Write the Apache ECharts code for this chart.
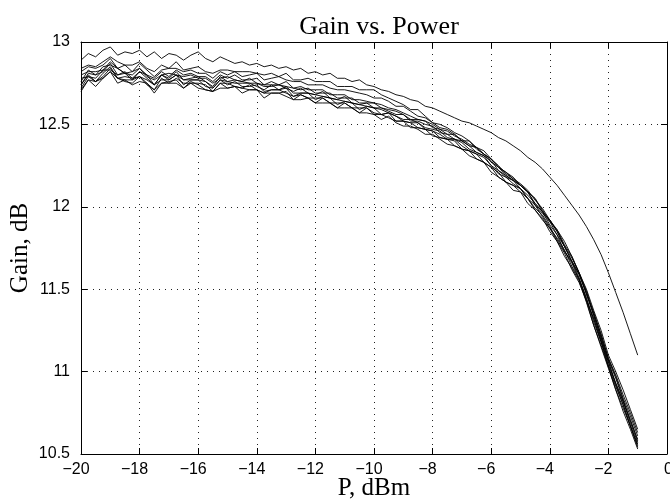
<!DOCTYPE html>
<html>
<head>
<meta charset="utf-8">
<title>Gain vs. Power</title>
<script src="https://cdn.jsdelivr.net/npm/echarts@6/dist/echarts.min.js"></script>
<style>
  html, body { margin: 0; padding: 0; background: #fff; }
  #chart { width: 670px; height: 503px; }
</style>
</head>
<body>
<div id="chart"></div>
<script>
// input power, dBm
const powerDbm = [
  -20, -19.75, -19.5, -19.25, -19, -18.75, -18.5, -18.25, -18, -17.75,
  -17.5, -17.25, -17, -16.75, -16.5, -16.25, -16, -15.75, -15.5, -15.25,
  -15, -14.75, -14.5, -14.25, -14, -13.75, -13.5, -13.25, -13, -12.75,
  -12.5, -12.25, -12, -11.75, -11.5, -11.25, -11, -10.75, -10.5, -10.25,
  -10, -9.75, -9.5, -9.25, -9, -8.75, -8.5, -8.25, -8, -7.75,
  -7.5, -7.25, -7, -6.75, -6.5, -6.25, -6, -5.75, -5.5, -5.25,
  -5, -4.75, -4.5, -4.25, -4, -3.75, -3.5, -3.25, -3, -2.75,
  -2.5, -2.25, -2, -1.75, -1.5, -1.25, -1
]

// gain, dB, one array per measured curve
const gainA = [
  12.89, 12.93, 12.91, 12.95, 12.97, 12.92, 12.94, 12.93, 12.95, 12.91,
  12.94, 12.90, 12.93, 12.92, 12.89, 12.92, 12.94, 12.90, 12.88, 12.91,
  12.89, 12.87, 12.88, 12.86, 12.87, 12.85, 12.86, 12.84, 12.85, 12.83,
  12.84, 12.81, 12.82, 12.80, 12.81, 12.78, 12.78, 12.76, 12.77, 12.74,
  12.73, 12.71, 12.70, 12.68, 12.67, 12.65, 12.64, 12.61, 12.60, 12.58,
  12.56, 12.54, 12.52, 12.51, 12.49, 12.47, 12.45, 12.42, 12.40, 12.37,
  12.34, 12.30, 12.27, 12.23, 12.18, 12.13, 12.07, 12.01, 11.95, 11.88,
  11.80, 11.71, 11.60, 11.48, 11.36, 11.23, 11.10
]
const gainB = [
  12.84, 12.86, 12.85, 12.88, 12.91, 12.88, 12.86, 12.86, 12.88, 12.84,
  12.82, 12.86, 12.84, 12.88, 12.83, 12.84, 12.85, 12.82, 12.81, 12.83,
  12.83, 12.82, 12.82, 12.82, 12.81, 12.80, 12.81, 12.79, 12.81, 12.77,
  12.77, 12.78, 12.76, 12.76, 12.76, 12.73, 12.73, 12.73, 12.71, 12.71,
  12.71, 12.68, 12.66, 12.64, 12.62, 12.59, 12.59, 12.55, 12.51, 12.50,
  12.48, 12.45, 12.43, 12.40, 12.36, 12.34, 12.29, 12.24, 12.21, 12.18,
  12.13, 12.09, 12.05, 11.98, 11.91, 11.86, 11.79, 11.70, 11.60, 11.50,
  11.37, 11.25, 11.10, 11.00, 10.89, 10.77, 10.65
]
const gainC = [
  12.82, 12.85, 12.84, 12.86, 12.90, 12.84, 12.86, 12.82, 12.87, 12.83,
  12.79, 12.83, 12.84, 12.84, 12.82, 12.83, 12.81, 12.81, 12.78, 12.82,
  12.80, 12.82, 12.79, 12.80, 12.81, 12.77, 12.78, 12.79, 12.77, 12.76,
  12.76, 12.74, 12.74, 12.74, 12.72, 12.71, 12.71, 12.70, 12.69, 12.68,
  12.66, 12.66, 12.64, 12.61, 12.61, 12.58, 12.55, 12.54, 12.51, 12.48,
  12.47, 12.44, 12.40, 12.40, 12.35, 12.32, 12.29, 12.24, 12.19, 12.16,
  12.13, 12.09, 12.02, 11.97, 11.92, 11.85, 11.76, 11.69, 11.60, 11.47,
  11.36, 11.22, 11.08, 10.98, 10.86, 10.75, 10.63
]
const gainD1 = [
  12.80, 12.82, 12.82, 12.83, 12.88, 12.84, 12.81, 12.82, 12.84, 12.80,
  12.78, 12.82, 12.79, 12.83, 12.80, 12.81, 12.79, 12.79, 12.76, 12.80,
  12.78, 12.80, 12.77, 12.77, 12.78, 12.74, 12.76, 12.74, 12.76, 12.72,
  12.73, 12.71, 12.71, 12.71, 12.68, 12.68, 12.68, 12.65, 12.65, 12.64,
  12.63, 12.62, 12.60, 12.59, 12.57, 12.55, 12.53, 12.52, 12.50, 12.47,
  12.46, 12.43, 12.41, 12.38, 12.36, 12.32, 12.29, 12.25, 12.20, 12.17,
  12.14, 12.10, 12.04, 11.99, 11.92, 11.86, 11.77, 11.70, 11.60, 11.49,
  11.35, 11.23, 11.08, 10.97, 10.84, 10.73, 10.61
]
const gainD2 = [
  12.76, 12.83, 12.80, 12.85, 12.86, 12.84, 12.81, 12.80, 12.84, 12.79,
  12.77, 12.80, 12.81, 12.80, 12.79, 12.80, 12.78, 12.78, 12.75, 12.78,
  12.79, 12.77, 12.76, 12.78, 12.75, 12.74, 12.74, 12.74, 12.73, 12.72,
  12.71, 12.72, 12.69, 12.69, 12.69, 12.66, 12.66, 12.66, 12.63, 12.63,
  12.63, 12.60, 12.59, 12.58, 12.56, 12.53, 12.53, 12.52, 12.48, 12.47,
  12.44, 12.44, 12.40, 12.37, 12.36, 12.32, 12.27, 12.24, 12.21, 12.17,
  12.13, 12.09, 12.05, 11.97, 11.92, 11.85, 11.76, 11.67, 11.59, 11.48,
  11.34, 11.21, 11.06, 10.93, 10.82, 10.71, 10.58
]
const gainD3 = [
  12.74, 12.81, 12.80, 12.82, 12.87, 12.80, 12.82, 12.78, 12.82, 12.80,
  12.74, 12.80, 12.78, 12.82, 12.77, 12.78, 12.79, 12.76, 12.73, 12.79,
  12.76, 12.77, 12.76, 12.75, 12.75, 12.73, 12.73, 12.74, 12.72, 12.70,
  12.72, 12.69, 12.68, 12.70, 12.66, 12.65, 12.67, 12.63, 12.62, 12.63,
  12.60, 12.60, 12.58, 12.56, 12.56, 12.52, 12.52, 12.50, 12.49, 12.45,
  12.44, 12.41, 12.40, 12.37, 12.33, 12.31, 12.28, 12.22, 12.19, 12.16,
  12.13, 12.09, 12.01, 11.96, 11.91, 11.83, 11.73, 11.67, 11.57, 11.44,
  11.32, 11.18, 11.06, 10.92, 10.80, 10.67, 10.56
]
const gainD4 = [
  12.78, 12.79, 12.78, 12.83, 12.83, 12.80, 12.81, 12.77, 12.82, 12.78,
  12.74, 12.80, 12.77, 12.80, 12.77, 12.77, 12.77, 12.76, 12.72, 12.77,
  12.76, 12.75, 12.75, 12.75, 12.73, 12.71, 12.74, 12.71, 12.73, 12.69,
  12.69, 12.69, 12.68, 12.67, 12.66, 12.65, 12.64, 12.63, 12.62, 12.61,
  12.60, 12.59, 12.57, 12.55, 12.53, 12.53, 12.51, 12.48, 12.47, 12.46,
  12.42, 12.41, 12.39, 12.35, 12.33, 12.31, 12.25, 12.22, 12.18, 12.16,
  12.11, 12.07, 12.02, 11.97, 11.89, 11.83, 11.76, 11.67, 11.59, 11.47,
  11.34, 11.20, 11.07, 10.96, 10.83, 10.70, 10.59
]
const gainD5 = [
  12.74, 12.80, 12.76, 12.81, 12.85, 12.78, 12.79, 12.78, 12.79, 12.77,
  12.74, 12.77, 12.77, 12.80, 12.74, 12.77, 12.77, 12.73, 12.72, 12.77,
  12.74, 12.76, 12.73, 12.73, 12.74, 12.70, 12.71, 12.71, 12.72, 12.67,
  12.69, 12.69, 12.65, 12.67, 12.66, 12.62, 12.64, 12.63, 12.59, 12.61,
  12.60, 12.56, 12.57, 12.55, 12.52, 12.51, 12.51, 12.47, 12.46, 12.44,
  12.41, 12.41, 12.37, 12.34, 12.32, 12.30, 12.25, 12.20, 12.18, 12.14,
  12.11, 12.05, 12.01, 11.94, 11.87, 11.81, 11.74, 11.64, 11.56, 11.45,
  11.30, 11.18, 11.03, 10.91, 10.80, 10.67, 10.55
]
const gainD6 = [
  12.72, 12.79, 12.76, 12.79, 12.84, 12.78, 12.77, 12.77, 12.79, 12.75,
  12.71, 12.78, 12.75, 12.78, 12.75, 12.75, 12.75, 12.74, 12.70, 12.75,
  12.75, 12.73, 12.72, 12.74, 12.71, 12.69, 12.71, 12.71, 12.69, 12.67,
  12.68, 12.66, 12.66, 12.66, 12.63, 12.63, 12.63, 12.60, 12.60, 12.60,
  12.57, 12.56, 12.57, 12.52, 12.52, 12.51, 12.48, 12.47, 12.46, 12.42,
  12.41, 12.40, 12.35, 12.34, 12.32, 12.27, 12.24, 12.21, 12.15, 12.13,
  12.11, 12.05, 11.99, 11.95, 11.88, 11.80, 11.73, 11.66, 11.56, 11.43,
  11.32, 11.19, 11.04, 10.93, 10.82, 10.69, 10.57
]
const gainD7 = [
  12.71, 12.77, 12.76, 12.78, 12.82, 12.78, 12.76, 12.75, 12.79, 12.74,
  12.71, 12.75, 12.76, 12.77, 12.72, 12.76, 12.74, 12.71, 12.70, 12.75,
  12.72, 12.73, 12.72, 12.71, 12.71, 12.69, 12.69, 12.69, 12.70, 12.65,
  12.68, 12.66, 12.63, 12.66, 12.63, 12.60, 12.63, 12.60, 12.57, 12.60,
  12.56, 12.56, 12.54, 12.52, 12.52, 12.48, 12.48, 12.47, 12.43, 12.42,
  12.41, 12.37, 12.35, 12.34, 12.29, 12.27, 12.24, 12.18, 12.15, 12.13,
  12.09, 12.05, 11.98, 11.92, 11.87, 11.79, 11.70, 11.63, 11.55, 11.42,
  11.28, 11.15, 11.02, 10.89, 10.76, 10.65, 10.53
]
const gainD8 = [
  12.70, 12.77, 12.73, 12.78, 12.82, 12.75, 12.77, 12.74, 12.76, 12.75,
  12.69, 12.75, 12.75, 12.75, 12.72, 12.75, 12.72, 12.71, 12.70, 12.72,
  12.72, 12.73, 12.69, 12.71, 12.71, 12.66, 12.69, 12.69, 12.67, 12.65,
  12.65, 12.66, 12.63, 12.63, 12.63, 12.60, 12.60, 12.60, 12.57, 12.57,
  12.56, 12.53, 12.55, 12.51, 12.49, 12.49, 12.47, 12.44, 12.44, 12.41,
  12.38, 12.37, 12.35, 12.31, 12.29, 12.27, 12.21, 12.18, 12.15, 12.10,
  12.09, 12.02, 11.98, 11.93, 11.85, 11.79, 11.72, 11.62, 11.54, 11.43,
  11.28, 11.16, 11.03, 10.89, 10.78, 10.67, 10.54
]

const curves = [gainA, gainB, gainC, gainD1, gainD2, gainD3, gainD4, gainD5, gainD6, gainD7, gainD8]

const sans = 'Liberation Sans'
const serif = 'Liberation Serif'

function fmtX(v) {
  if (v < 0) return '{n|\u2212' + Math.abs(v) + '}'
  return '{z|' + v + '}'
}

const dotted = { show: true, lineStyle: { color: '#222', width: 1, type: [1, 5] } }
const boxLine = { show: true, onZero: false, lineStyle: { color: '#000', width: 1 } }
const tick = { show: true, inside: true, length: 6, lineStyle: { color: '#000', width: 1 } }

const chart = echarts.init(document.getElementById('chart'), null, { renderer: 'canvas' })
chart.setOption({
  animation: false,
  backgroundColor: '#fff',
  title: {
    text: 'Gain vs. Power',
    left: 374,
    textAlign: 'center',
    top: 9,
    textStyle: { fontFamily: serif, fontSize: 26, fontWeight: 'normal', color: '#000' }
  },
  grid: { left: 81, right: 3, top: 42, bottom: 49, containLabel: false, outerBoundsMode: 'none' },
  xAxis: [{
    type: 'value',
    position: 'bottom',
    min: -20,
    max: 0,
    interval: 2,
    axisLine: boxLine,
    axisTick: tick,
    splitLine: dotted,
    axisLabel: {
      formatter: fmtX,
      margin: 8,
      color: '#000',
      fontFamily: sans,
      fontSize: 16,
      rich: {
        n: { fontFamily: sans, fontSize: 16, color: '#000', padding: [0, 10, 0, 0] },
        z: { fontFamily: sans, fontSize: 16, color: '#000', padding: [0, 0, 0, 3] }
      }
    },
    name: 'P, dBm',
    nameLocation: 'middle',
    nameGap: 22,
    nameMoveOverlap: false,
    nameTextStyle: { fontFamily: serif, fontSize: 25, color: '#000' }
  }, {
    type: 'value',
    position: 'top',
    min: -20,
    max: 0,
    interval: 2,
    axisLine: boxLine,
    axisTick: tick,
    axisLabel: { show: false },
    splitLine: { show: false }
  }],
  yAxis: [{
    type: 'value',
    position: 'left',
    min: 10.5,
    max: 13,
    interval: 0.5,
    axisLine: boxLine,
    axisTick: tick,
    splitLine: dotted,
    axisLabel: { margin: 11, color: '#000', fontFamily: sans, fontSize: 16 },
    name: 'Gain, dB',
    nameLocation: 'middle',
    nameRotate: 90,
    nameGap: 48,
    nameMoveOverlap: false,
    nameTextStyle: { fontFamily: serif, fontSize: 25, color: '#000' }
  }, {
    type: 'value',
    position: 'right',
    min: 10.5,
    max: 13,
    interval: 0.5,
    axisLine: boxLine,
    axisTick: tick,
    axisLabel: { show: false },
    splitLine: { show: false }
  }],
  series: curves.map(function (g) {
    return {
      type: 'line',
      xAxisIndex: 0,
      yAxisIndex: 0,
      data: powerDbm.map(function (p, i) { return [p, g[i]] }),
      showSymbol: false,
      symbol: 'none',
      silent: true,
      lineStyle: { color: '#000', width: 0.9 }
    }
  })
})
</script>
</body>
</html>
